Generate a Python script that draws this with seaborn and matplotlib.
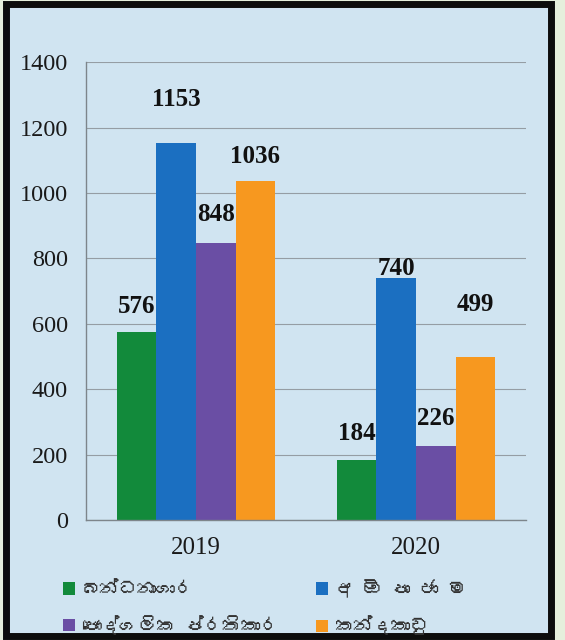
import matplotlib
matplotlib.use("Agg")
import matplotlib.pyplot as plt
from matplotlib import font_manager
from matplotlib.ft2font import FT2Font
from matplotlib.patches import Rectangle, Patch
import seaborn as sns
import pandas as pd

years = ["2019", "2020"]
categories = ["බන්ධනාගාර", "අ ඕ පා ජා ම", "පෞද්ගලික ප්රතිකාර", "කන්දකාඩු"]
values_2019 = [576, 1153, 848, 1036]
values_2020 = [184, 740, 226, 499]
colors = ["#128a3b", "#1b6fc1", "#6a4ea4", "#f7981f"]
label_offsets = [[18, 31, 20, 18], [19, 7, 20, 38]]  # points above bar top

# find a font with Sinhala glyphs if any
sinhala_font = None
for path in sorted(font_manager.findSystemFonts()):
    try:
        f = FT2Font(path)
        cm = f.get_charmap()
        if 0x0DB6 in cm and 0x0DCF in cm:
            font_manager.fontManager.addfont(path)
            sinhala_font = font_manager.FontProperties(fname=path).get_name()
            break
    except Exception:
        pass

rows = []
for yr, vals in zip(years, [values_2019, values_2020]):
    for c, v in zip(categories, vals):
        rows.append({"year": yr, "cat": c, "val": v})
df = pd.DataFrame(rows)

sns.set_theme(style="white")
plt.rcParams["font.family"] = ["Liberation Serif", "DejaVu Serif"]

fig = plt.figure(figsize=(5.65, 6.4), dpi=100)
fig.patch.set_facecolor("#e6efdc")
frame = Rectangle((0.0105, 0.0055), 0.965, 0.9885, transform=fig.transFigure,
                  facecolor="#d0e4f1", edgecolor="#0d0d0d", linewidth=5, zorder=-10)
fig.patches.append(frame)

ax = fig.add_axes([0.152, 0.187, 0.779, 0.716])
ax.set_zorder(5)
ax.set_facecolor("none")
sns.barplot(data=df, x="year", y="val", hue="cat", hue_order=categories,
            palette=colors, width=0.72, gap=0, saturation=1, ax=ax,
            legend=False, edgecolor="none", linewidth=0)

ax.set_ylim(0, 1400)
ax.set_xlim(-0.5, 1.5)
ax.set_yticks(range(0, 1401, 200))
ax.yaxis.grid(True, color="#959da4", linewidth=0.8)
ax.set_axisbelow(True)
for s in ["top", "right"]:
    ax.spines[s].set_visible(False)
for s in ["left", "bottom"]:
    ax.spines[s].set_color("#7d858b")
    ax.spines[s].set_linewidth(1.0)
ax.tick_params(axis="both", length=0, colors="#1a1a1a")
ax.tick_params(axis="y", pad=13, labelsize=17.5)
ax.tick_params(axis="x", pad=12, labelsize=18)
ax.set_xlabel("")
ax.set_ylabel("")

# value labels
for hi, cont in enumerate(ax.containers):
    for yi, bar in enumerate(cont):
        h = bar.get_height()
        ax.annotate(f"{int(round(h))}", (bar.get_x() + bar.get_width() / 2, h),
                    xytext=(0, label_offsets[yi][hi]), textcoords="offset points",
                    ha="center", va="center", fontsize=18, fontweight="bold",
                    color="#111111")

# legend
handles = [Patch(facecolor=c, edgecolor="none") for c in colors]
order = [0, 2, 1, 3]
leg_family = [sinhala_font, "DejaVu Sans"] if sinhala_font else ["DejaVu Sans"]
leg = fig.legend([handles[i] for i in order], [categories[i] for i in order],
                 ncol=2, loc="upper left", bbox_to_anchor=(0.098, 0.107),
                 frameon=False, handlelength=0.65, handleheight=0.65,
                 handletextpad=0.35, labelspacing=0.95, borderaxespad=0,
                 columnspacing=2.0, prop={"family": leg_family, "size": 13.5})
for t in leg.get_texts():
    t.set_color("#333333")

fig.savefig("out.png", dpi=100, facecolor=fig.get_facecolor())
